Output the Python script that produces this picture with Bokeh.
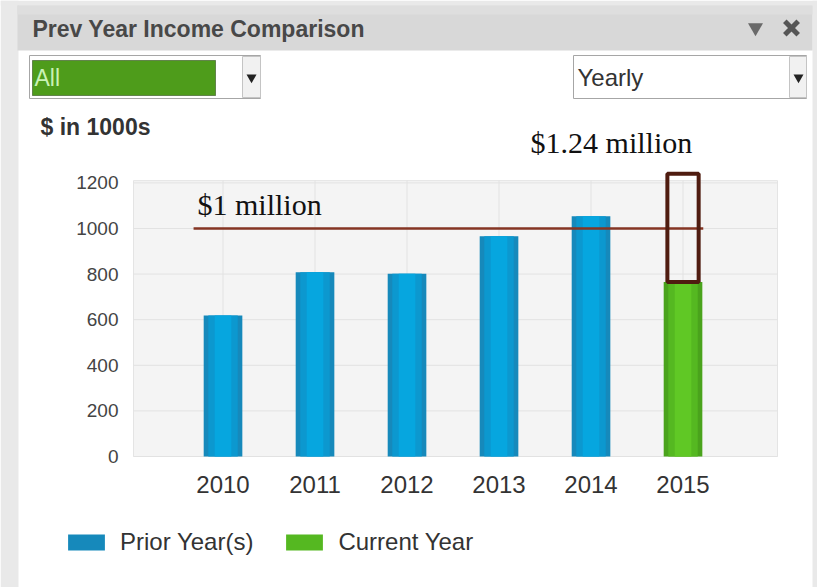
from bokeh.plotting import figure
from bokeh.models import Range1d, FixedTicker, Label, Legend, LegendItem
from bokeh.embed import file_html
from bokeh.resources import INLINE
from bokeh.core.properties import value

# ---------------- data ----------------
prior_years = [2010, 2011, 2012, 2013, 2014]
prior_income = [618, 808, 801, 966, 1054]          # $ in 1000s
current_years = [2015]
current_income = [765]
projected_income = [1240]                           # $1.24 million
million_line = 1000                                 # $1 million
y_ticks = [0, 200, 400, 600, 800, 1000, 1200]
x_ticks = prior_years + current_years

title_text = "Prev Year Income Comparison"
units_text = "$ in 1000s"
dropdown_left = "All"
dropdown_right = "Yearly"
legend_labels = ["Prior Year(s)", "Current Year"]
line_label = "$1 million"
box_label = "$1.24 million"

SANS = "Liberation Sans"
SERIF = "Liberation Serif"
W, H = 817, 587

# chart value window (plot area) and the full-canvas ranges around it
AREA_X0, AREA_X1 = 2009.027, 2016.027     # grey plot area, left/right
AREA_Y1 = 1210                           # grey plot area, top
PX_PER_X = 92.0
PX_PER_Y = 0.228
x_start = AREA_X0 - 133 / PX_PER_X
x_end = AREA_X1 + (W - 777) / PX_PER_X
y_start = -(H - 456) / PX_PER_Y
y_end = 456 / PX_PER_Y

p = figure(width=W, height=H, x_range=Range1d(x_start, x_end), y_range=Range1d(y_start, y_end),
           output_backend="svg", toolbar_location=None, min_border=0,
           outline_line_color=None, background_fill_color="white", border_fill_color="white")
p.extra_x_ranges = {"px": Range1d(0, W)}
p.extra_y_ranges = {"px": Range1d(H, 0)}
PX = dict(x_range_name="px", y_range_name="px")
p.grid.visible = False

# ---------------- page / widget chrome ----------------
p.quad(left=[0], right=[18], top=[0], bottom=[H], fill_color="#e9e9e9", line_color=None, **PX)
p.quad(left=[812], right=[W], top=[0], bottom=[H], fill_color="#e9e9e9", line_color=None, **PX)
p.quad(left=[0], right=[W], top=[0], bottom=[5], fill_color="#e9e9e9", line_color=None, **PX)
p.quad(left=[17], right=[812], top=[5], bottom=[50], fill_color="#d8d8d8", line_color=None, **PX)
p.quad(left=[17], right=[812], top=[5], bottom=[14], fill_color="#dedede", line_color=None, **PX)
p.text(x=[32], y=[28], text=[title_text], text_font=value(SANS), text_font_style="bold",
       text_font_size="23px", text_color="#484848", text_baseline="alphabetic", **PX)
p.scatter(x=[755], y=[27], marker="inverted_triangle", size=15, fill_color="#6a6a6a", line_color=None, **PX)
p.scatter(x=[791], y=[27.5], marker="x", size=19, line_color="#565656", line_width=5, **PX)

# left dropdown
p.quad(left=[29], right=[260], top=[55], bottom=[98], fill_color="white", line_color="#a6a6a6", **PX)
p.quad(left=[32], right=[215], top=[60], bottom=[95], fill_color="#4e9c1b",
       line_color="#1e3a0a", line_dash="1 1", **PX)
p.text(x=[34], y=[77], text=[dropdown_left], text_font=value(SANS), text_font_size="23px",
       text_color="#c9f2b5", text_baseline="alphabetic", **PX)
p.quad(left=[242], right=[260], top=[56], bottom=[97], fill_color="#f1f1f1", line_color="#c4c4c4", **PX)
p.scatter(x=[251], y=[77], marker="inverted_triangle", size=10, fill_color="#222222", line_color=None, **PX)

# right dropdown
p.quad(left=[573], right=[806], top=[55], bottom=[98], fill_color="white", line_color="#a6a6a6", **PX)
p.text(x=[577], y=[77], text=[dropdown_right], text_font=value(SANS), text_font_size="24px",
       text_color="#333333", text_baseline="alphabetic", **PX)
p.quad(left=[789], right=[806], top=[56], bottom=[97], fill_color="#f1f1f1", line_color="#c4c4c4", **PX)
p.scatter(x=[798], y=[77], marker="inverted_triangle", size=10, fill_color="#222222", line_color=None, **PX)

# units caption
p.text(x=[40], y=[126], text=[units_text], text_font=value(SANS), text_font_style="bold",
       text_font_size="23px", text_color="#333333", text_baseline="alphabetic", **PX)

# ---------------- plot area ----------------
p.quad(left=[AREA_X0], right=[AREA_X1], bottom=[0], top=[AREA_Y1],
       fill_color="#f4f4f4", line_color="#e4e4e4", line_width=1)
p.segment(x0=[AREA_X0] * len(y_ticks), x1=[AREA_X1] * len(y_ticks), y0=y_ticks, y1=y_ticks,
          line_color="#e2e2e2", line_width=1)
p.segment(x0=x_ticks, y0=[0] * len(x_ticks), x1=x_ticks, y1=[AREA_Y1] * len(x_ticks),
          line_color="#e2e2e2", line_width=1)

# axes, pinned to the plot-area edges
p.xaxis.fixed_location = 0
p.yaxis.fixed_location = AREA_X0
for ax in (p.xaxis, p.yaxis):
    ax.axis_line_color = None
    ax.major_tick_line_color = None
    ax.minor_tick_line_color = None
    ax.major_tick_out = 0
    ax.major_tick_in = 0
    ax.major_label_text_font = SANS
p.yaxis.ticker = FixedTicker(ticks=y_ticks)
p.xaxis.ticker = FixedTicker(ticks=x_ticks)
p.yaxis.major_label_text_font_size = "19px"
p.yaxis.major_label_text_color = "#444444"
p.yaxis.major_label_standoff = 15
p.xaxis.major_label_text_font_size = "24px"
p.xaxis.major_label_text_color = "#333333"
p.xaxis.major_label_standoff = 19

# bars (layered to imitate the cylinder shading)
r_prior = p.vbar(x=prior_years, top=prior_income, bottom=0, width=0.42, fill_color="#1689bb", line_color=None)
p.vbar(x=prior_years, top=prior_income, bottom=0, width=0.32, fill_color="#0c98cf", line_color=None)
p.vbar(x=prior_years, top=prior_income, bottom=0, width=0.18, fill_color="#06a6df", line_color=None)
p.vbar(x=current_years, top=current_income, bottom=0, width=0.42, fill_color="#4aa31c", line_color=None)
r_cur = p.vbar(x=current_years, top=current_income, bottom=0, width=0.32, fill_color="#55b821", line_color=None)
p.vbar(x=current_years, top=current_income, bottom=0, width=0.18, fill_color="#60c825", line_color=None)

# $1 million line and projection box
p.segment(x0=[prior_years[0] - 0.32], y0=[million_line], x1=[current_years[-1] + 0.22], y1=[million_line],
          line_color="#853523", line_width=2.5)
p.vbar(x=current_years, bottom=current_income, top=projected_income, width=0.34,
       fill_color=None, line_color="#4f1c10", line_width=4)

p.add_layout(Label(x=prior_years[0] - 0.277, y=1105, text=line_label, text_font=SERIF,
                   text_font_size="30px", text_color="#111111", text_baseline="alphabetic"))
p.add_layout(Label(x=current_years[0] + 0.1, y=1377, text=box_label, text_font=SERIF,
                   text_font_size="30px", text_color="#111111", text_align="right",
                   text_baseline="alphabetic"))

legend = Legend(items=[LegendItem(label=legend_labels[0], renderers=[r_prior]),
                       LegendItem(label=legend_labels[1], renderers=[r_cur])],
                orientation="horizontal", location=(63, 31), glyph_width=46, glyph_height=20,
                label_standoff=11, spacing=28, padding=0, margin=0, border_line_color=None,
                background_fill_alpha=0, label_text_font=SANS, label_text_font_size="24px",
                label_text_color="#333333")
p.add_layout(legend)

open("out.html", "w").write(file_html(p, INLINE))
